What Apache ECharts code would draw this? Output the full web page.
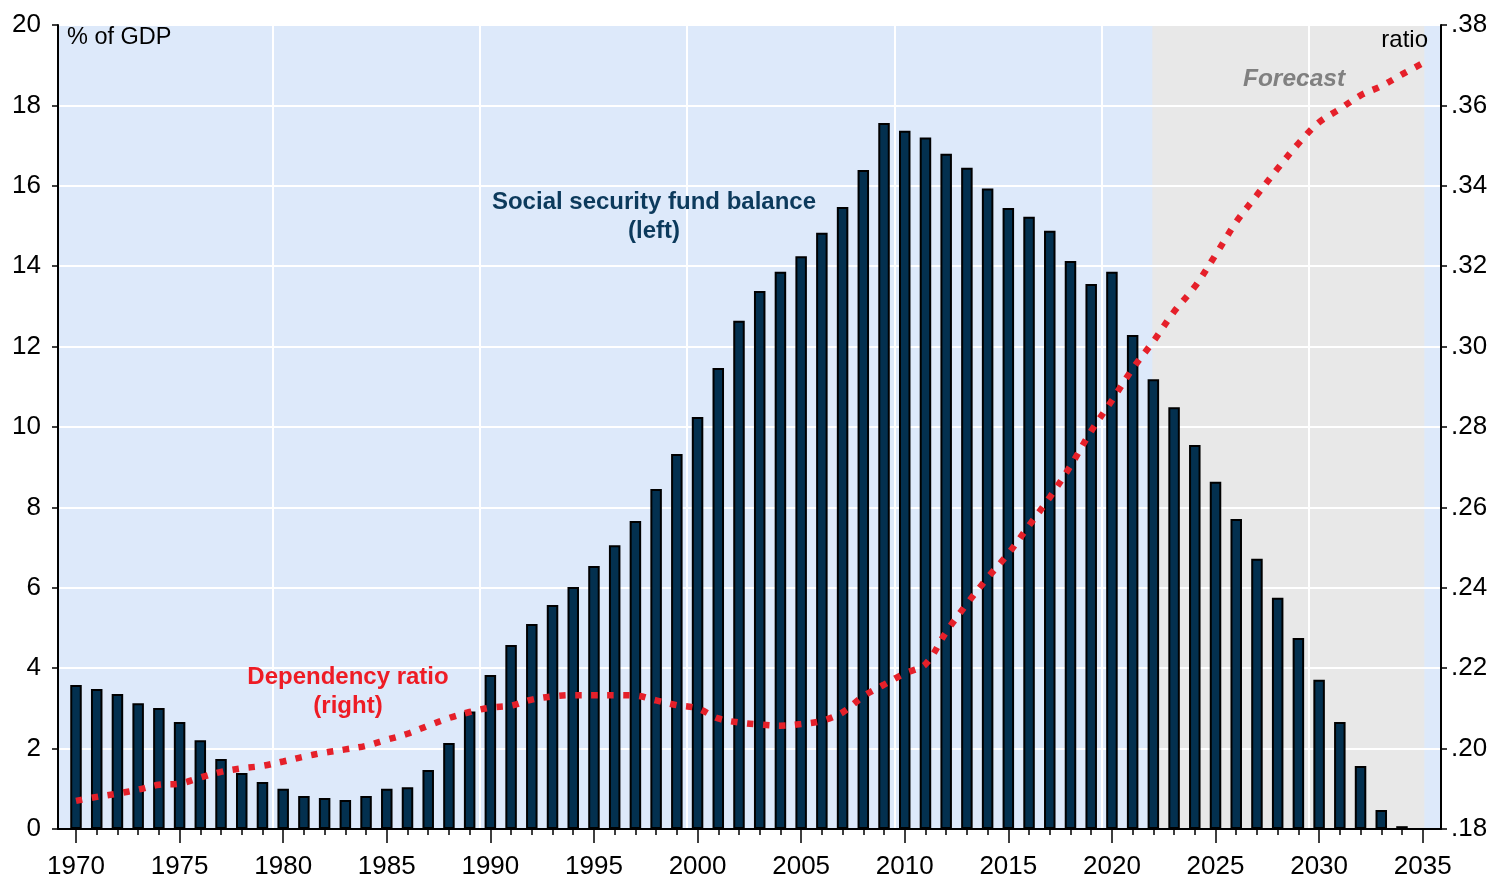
<!DOCTYPE html>
<html>
<head>
<meta charset="utf-8">
<script src="https://cdn.jsdelivr.net/npm/echarts@6/dist/echarts.min.js"></script>
<style>
html,body{margin:0;padding:0;background:#fff;}
#chart{width:1505px;height:880px;}
</style>
</head>
<body>
<div id="chart"></div>
<script>
// ---- data ----
const barYears = [1970,1971,1972,1973,1974,1975,1976,1977,1978,1979,
  1980,1981,1982,1983,1984,1985,1986,1987,1988,1989,
  1990,1991,1992,1993,1994,1995,1996,1997,1998,1999,
  2000,2001,2002,2003,2004,2005,2006,2007,2008,2009,
  2010,2011,2012,2013,2014,2015,2016,2017,2018,2019,
  2020,2021,2022,2023,2024,2025,2026,2027,2028,2029,
  2030,2031,2032,2033,2034];
const fundBalance = [3.58,3.48,3.36,3.13,3.01,2.66,2.21,1.74,1.39,1.17,
  1.00,0.82,0.77,0.72,0.82,1.00,1.04,1.47,2.14,2.92,
  3.83,4.58,5.10,5.57,6.02,6.54,7.06,7.66,8.46,9.33,
  10.25,11.47,12.64,13.38,13.86,14.25,14.83,15.47,16.39,17.56,
  17.37,17.20,16.80,16.45,15.93,15.45,15.23,14.88,14.13,13.56,
  13.86,12.29,11.19,10.49,9.55,8.64,7.71,6.72,5.75,4.75,
  3.71,2.66,1.57,0.47,0.07];
const ratioYears = [1970,1971,1972,1973,1974,1975,1976,1977,1978,1979,
  1980,1981,1982,1983,1984,1985,1986,1987,1988,1989,
  1990,1991,1992,1993,1994,1995,1996,1997,1998,1999,
  2000,2001,2002,2003,2004,2005,2006,2007,2008,2009,
  2010,2011,2012,2013,2014,2015,2016,2017,2018,2019,
  2020,2021,2022,2023,2024,2025,2026,2027,2028,2029,
  2030,2031,2032,2033,2034,2035];
const dependencyRatio = [0.1870,0.1880,0.1888,0.1898,0.1910,0.1913,0.1928,0.1942,0.1951,0.1957,
  0.1968,0.1980,0.1990,0.1998,0.2007,0.2022,0.2037,0.2057,0.2076,0.2091,
  0.2102,0.2107,0.2122,0.2130,0.2133,0.2133,0.2133,0.2132,0.2120,0.2108,
  0.2100,0.2075,0.2065,0.2060,0.2057,0.2061,0.2069,0.2090,0.2130,0.2159,
  0.2187,0.2210,0.2290,0.2360,0.2425,0.2485,0.2555,0.2625,0.2703,0.2790,
  0.2866,0.2945,0.3013,0.3087,0.3149,0.3228,0.3310,0.3377,0.3443,0.3505,
  0.3558,0.3591,0.3625,0.3648,0.3677,0.3705];
const xMajorTicks = [1970,1975,1980,1985,1990,1995,2000,2005,2010,2015,2020,2025,2030,2035];
const xMinorTicks = ratioYears;
const xGridLines = [1979.5,1989.5,1999.5,2009.5,2019.5,2029.5];
const forecastStart = 2021.95, forecastEnd = 2035.08;
const leftTicks = {min:0, max:20, interval:2};
const rightTicks = {min:0.18, max:0.38, interval:0.02};

// ---- layout ----
const W = 1505, H = 880;
const plotL = 58, plotR = 1441, plotT = 25, plotB = 829;
const x1970 = 76, pxPerYear = (1422.7 - 76) / 65;
const xMin = 1970 - (x1970 - plotL) / pxPerYear;
const xMax = 1970 + (plotR - x1970) / pxPerYear;
const FONT = "'Liberation Sans', Arial, sans-serif";

const chart = echarts.init(document.getElementById('chart'), null, {renderer: 'canvas'});
const baseX = {gridIndex: 0, type: 'value', min: xMin, max: xMax, position: 'bottom', offset: 0};
const option = {
  animation: false,
  backgroundColor: '#ffffff',
  grid: [
    {left: plotL, right: W - plotR, top: plotT, bottom: H - plotB, show: true,
     backgroundColor: '#dde9fa', borderWidth: 0, containLabel: false}
  ],
  xAxis: [
    Object.assign({}, baseX, {z: 2,
     axisLine: {show: true, lineStyle: {color: '#000', width: 2}},
     axisTick: {show: true, length: 14, customValues: xMajorTicks, lineStyle: {color: '#000', width: 1.5}},
     axisLabel: {show: true, margin: 25, fontSize: 26, color: '#000', fontFamily: FONT,
       customValues: xMajorTicks, formatter: v => String(Math.round(v))},
     splitLine: {show: false}}),
    Object.assign({}, baseX, {z: 2,
     axisLine: {show: false},
     axisTick: {show: true, length: 6, customValues: xMinorTicks, lineStyle: {color: '#000', width: 1.5}},
     axisLabel: {show: false}, splitLine: {show: false}}),
    Object.assign({}, baseX, {z: 2,
     axisLine: {show: false},
     axisTick: {show: false, customValues: xGridLines},
     axisLabel: {show: false},
     splitLine: {show: true, lineStyle: {color: '#ffffff', width: 2}}})
  ],
  yAxis: [
    {gridIndex: 0, type: 'value', position: 'left', min: leftTicks.min, max: leftTicks.max, interval: leftTicks.interval, z: 2,
     axisLine: {show: true, lineStyle: {color: '#000', width: 2}},
     axisTick: {show: true, length: 6, lineStyle: {color: '#000', width: 1.5}},
     axisLabel: {margin: 17, fontSize: 26, color: '#000', fontFamily: FONT},
     splitLine: {show: true, lineStyle: {color: '#ffffff', width: 2}}},
    {gridIndex: 0, type: 'value', position: 'right', min: rightTicks.min, max: rightTicks.max, interval: rightTicks.interval, z: 2,
     axisLine: {show: true, lineStyle: {color: '#000', width: 2}},
     axisTick: {show: true, length: 6, lineStyle: {color: '#000', width: 1.5}},
     axisLabel: {margin: 10, fontSize: 26, color: '#000', fontFamily: FONT,
       formatter: v => v.toFixed(2).replace(/^0/, '')},
     splitLine: {show: false}}
  ],
  series: [
    {type: 'line', xAxisIndex: 0, yAxisIndex: 0, z: 1, silent: true,
     data: [[barYears[0], 0]], showSymbol: false, lineStyle: {width: 0, opacity: 0},
     markArea: {silent: true, itemStyle: {color: '#e8e8e8'},
       data: [[{xAxis: forecastStart}, {xAxis: forecastEnd}]]}},
    {type: 'bar', xAxisIndex: 0, yAxisIndex: 0, z: 3, barWidth: 11.5,
     data: barYears.map((y, i) => [y, fundBalance[i]]),
     itemStyle: {color: '#03304f', borderColor: '#000', borderWidth: 2}},
    {type: 'line', xAxisIndex: 0, yAxisIndex: 1, z: 4,
     data: ratioYears.map((y, i) => [y, dependencyRatio[i]]),
     showSymbol: false, smooth: 0.35,
     lineStyle: {color: '#e5202a', width: 6.5, type: [6.5, 9.5], cap: 'butt'}}
  ],
  graphic: [
    {type: 'text', left: 67, top: 26, z: 10,
     style: {text: '% of GDP', font: '23.5px ' + FONT, fill: '#000'}},
    {type: 'text', right: 1505 - 1428, top: 28, z: 10,
     style: {text: 'ratio', font: '24px ' + FONT, fill: '#000', textAlign: 'right'}},
    {type: 'text', x: 1294, y: 79, z: 10,
     style: {text: 'Forecast', font: 'italic bold 24.5px ' + FONT, fill: '#808080', textAlign: 'center', textVerticalAlign: 'middle'}},
    {type: 'text', x: 654, y: 217, z: 10,
     style: {text: 'Social security fund balance\n(left)', font: 'bold 24px ' + FONT, lineHeight: 29, fill: '#0c3a5c', textAlign: 'center', textVerticalAlign: 'middle'}},
    {type: 'text', x: 348, y: 692, z: 10,
     style: {text: 'Dependency ratio\n(right)', font: 'bold 24px ' + FONT, lineHeight: 29, fill: '#ee1c25', textAlign: 'center', textVerticalAlign: 'middle'}}
  ]
};
chart.setOption(option);
</script>
</body>
</html>
